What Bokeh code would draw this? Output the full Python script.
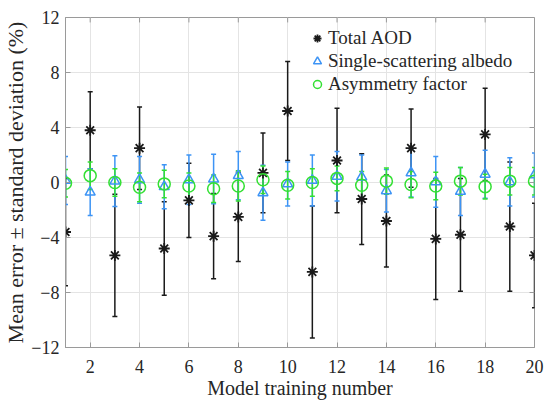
import numpy as np
from bokeh.plotting import figure
from bokeh.models import (ColumnDataSource, Whisker, TeeHead, Legend, LegendItem,
                          FixedTicker, Range1d)
from bokeh.embed import file_html
from bokeh.resources import INLINE

# ---------------- data ----------------
training_number = list(range(1, 21))
x_ticks = [2, 4, 6, 8, 10, 12, 14, 16, 18, 20]
y_ticks = [-12, -8, -4, 0, 4, 8, 12]
x_limits = [1, 20]
y_limits = [-12, 12]

aod_mean = [-3.6, 3.8, -5.3, 2.5, -4.8, -1.3, -3.9, -2.5, 0.7, 5.2,
            -6.5, 1.6, -1.2, -2.8, 2.5, -4.1, -3.8, 3.5, -3.2, -5.3]
aod_std = [3.9, 2.8, 4.45, 3.0, 3.4, 2.7, 3.1, 3.25, 2.9, 3.6,
           4.8, 3.8, 3.3, 3.35, 2.85, 4.4, 4.1, 3.35, 4.7, 3.8]

ssa_mean = [0.15, -0.7, 0.1, 0.2, -0.3, 0.2, 0.25, 0.5, -0.75, -0.1,
            0.15, 0.45, 0.4, -0.6, 0.7, 0.05, -0.65, 0.6, 0.05, 0.55]
ssa_std = [1.75, 1.7, 1.85, 1.7, 1.6, 1.8, 1.8, 1.75, 2.0, 1.6,
           1.85, 1.8, 1.6, 1.55, 1.75, 1.85, 1.75, 1.75, 1.75, 1.6]

asy_mean = [-0.05, 0.5, 0.0, -0.35, -0.1, -0.25, -0.45, -0.25, 0.2, -0.2,
            0.0, 0.3, -0.2, 0.1, -0.15, -0.25, 0.1, -0.3, 0.1, 0.1]
asy_std = [1.0, 1.0, 1.0, 1.05, 1.0, 0.95, 1.0, 1.1, 1.0, 1.0,
           1.0, 0.9, 1.0, 0.95, 0.95, 1.0, 1.0, 0.9, 1.0, 1.0]

series_labels = ["Total AOD", "Single-scattering albedo", "Asymmetry factor"]

# ---------------- style ----------------
FONT = "Liberation Serif"
TEXT_COLOR = "#262626"
AXIS_COLOR = "#9a9a9a"
C_AOD = "#1a1a1a"
C_SSA = "#3d94f5"
C_ASY = "#33e033"


def make_source(mean, std):
    m = np.array(mean)
    s = np.array(std)
    return ColumnDataSource(dict(x=training_number, y=m, upper=m + s, lower=m - s))


src_aod = make_source(aod_mean, aod_std)
src_ssa = make_source(ssa_mean, ssa_std)
src_asy = make_source(asy_mean, asy_std)

p = figure(width=544, height=401, output_backend="svg", toolbar_location=None,
           x_range=Range1d(*x_limits), y_range=Range1d(*y_limits),
           min_border_left=63, min_border_right=10, min_border_top=17,
           min_border_bottom=51)
p.background_fill_color = "white"
p.border_fill_color = "white"
p.outline_line_color = AXIS_COLOR
p.outline_line_width = 1

# axes
p.xaxis.ticker = FixedTicker(ticks=x_ticks)
p.yaxis.ticker = FixedTicker(ticks=y_ticks)
for ax in (p.xaxis[0], p.yaxis[0]):
    ax.axis_line_color = AXIS_COLOR
    ax.major_tick_line_color = AXIS_COLOR
    ax.major_tick_in = 5
    ax.major_tick_out = 0
    ax.minor_tick_line_color = None
    ax.major_label_text_font = FONT
    ax.major_label_text_font_size = "18px"
    ax.major_label_text_color = TEXT_COLOR
    ax.axis_label_text_font = FONT
    ax.axis_label_text_font_style = "normal"
    ax.axis_label_text_color = TEXT_COLOR

p.xaxis.axis_label = "Model training number"
p.yaxis.axis_label = "Mean error \u00b1 standard deviation (%)"
p.xaxis.axis_label_text_font_size = "20px"
p.yaxis.axis_label_text_font_size = "22px"
p.xaxis.major_label_standoff = 12
p.xaxis.axis_label_standoff = 1
p.yaxis.major_label_standoff = 6
p.yaxis.axis_label_standoff = 0

# grid
p.xgrid.ticker = FixedTicker(ticks=x_ticks)
p.ygrid.ticker = FixedTicker(ticks=y_ticks)
p.grid.grid_line_color = "#e4e4e4"
p.grid.grid_line_width = 1

# box-style tick marks on the top and right edges (from the tick lists)
xt = np.array(x_ticks, dtype=float)
yt = np.array(y_ticks, dtype=float)
tick_len_y = (y_limits[1] - y_limits[0]) * 0.015
tick_len_x = (x_limits[1] - x_limits[0]) * 0.0105
p.segment(x0=xt, y0=np.full_like(xt, y_limits[1]), x1=xt,
          y1=np.full_like(xt, y_limits[1] - tick_len_y),
          line_color=AXIS_COLOR, line_width=1)
p.segment(x0=np.full_like(yt, x_limits[1]), y0=yt,
          x1=np.full_like(yt, x_limits[1] - tick_len_x), y1=yt,
          line_color=AXIS_COLOR, line_width=1)

# error bars
for src, col in ((src_aod, C_AOD), (src_ssa, C_SSA), (src_asy, C_ASY)):
    w = Whisker(source=src, base="x", upper="upper", lower="lower",
                line_color=col, line_width=1.5,
                upper_head=TeeHead(size=5, line_color=col, line_width=1.5),
                lower_head=TeeHead(size=5, line_color=col, line_width=1.5))
    p.add_layout(w)

# markers
r_aod = p.scatter("x", "y", source=src_aod, marker="asterisk", size=11,
                  line_color=C_AOD, line_width=1.8)
r_ssa = p.scatter("x", "y", source=src_ssa, marker="triangle", size=10,
                  line_color=C_SSA, fill_color=None, line_width=1.5)
r_asy = p.scatter("x", "y", source=src_asy, marker="circle", size=12,
                  line_color=C_ASY, fill_color=None, line_width=1.5)

legend = Legend(items=[LegendItem(label=series_labels[0], renderers=[r_aod]),
                       LegendItem(label=series_labels[1], renderers=[r_ssa]),
                       LegendItem(label=series_labels[2], renderers=[r_asy])],
                location=(232, 242), border_line_alpha=0, background_fill_alpha=0,
                label_text_font=FONT, label_text_font_size="19px",
                label_text_color=TEXT_COLOR, spacing=1, padding=10, margin=0,
                glyph_width=20, glyph_height=20, label_standoff=1)
p.add_layout(legend)

open("out.html", "w").write(file_html(p, INLINE))
